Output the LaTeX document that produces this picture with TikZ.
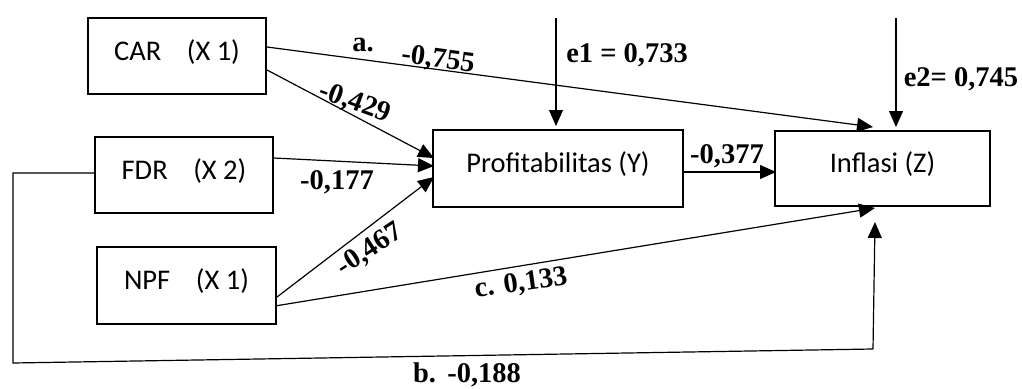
\documentclass[tikz,border=0pt]{standalone}
\usepackage{fontspec}
\newfontfamily\boxfont{Carlito}
\newfontfamily\labfont{Liberation Serif}
\usetikzlibrary{arrows.meta,calc}
\begin{document}
\begin{tikzpicture}[x=1pt,y=-1pt,
 var/.style={draw,line width=2pt,inner sep=0pt,text height=20pt,text depth=12pt,
   font=\boxfont\fontsize{28.5}{34}\selectfont},
 conn/.style={line width=1.2pt,-{Triangle[length=16pt,width=14pt]}},
 plain/.style={line width=1.2pt},
 lab/.style={font=\labfont\bfseries\fontsize{28.5}{32}\selectfont,inner sep=0pt},
]
\useasboundingbox (0,0) rectangle (1022,388);
% boxes
\node[var,minimum width=178pt,minimum height=76pt] (car) at (177,56) {CAR\hspace{0.9em}(X 1)};
\node[var,minimum width=178pt,minimum height=76pt] (fdr) at (184,175) {FDR\hspace{0.9em}(X 2)};
\node[var,minimum width=179pt,minimum height=77pt] (npf) at (186.5,285.5) {NPF\hspace{0.9em}(X 1)};
\node[var,minimum width=250pt,minimum height=77pt] (prof) at (558,168.5) {Profitabilitas (Y)};
\node[var,minimum width=215pt,minimum height=75pt] (inf) at (882.5,168.5) {Inflasi (Z)};
% free ends
\coordinate (e1top) at (556,18);
\coordinate (e2top) at (896,18);
\coordinate (fbA) at (13,173);
\coordinate (fbB) at (13,363);
\coordinate (fbC) at (873,349);
% connectors
\draw[conn] ($(car.east)+(0,-9)$) -- ($(inf.north)+(-9.5,-3)$);
\draw[conn] ($(car.east)+(0,14)$) -- ($(prof.west)+(2,-10.5)$);
\draw[conn] ($(fdr.east)+(0,-17)$) -- ($(prof.west)+(2,-2.5)$);
\draw[conn] ($(npf.east)+(0,11.5)$) -- ($(prof.west)+(2,8.5)$);
\draw[conn] ($(npf.east)+(-2,20.5)$) -- ($(inf.south)+(-7.5,1)$);
\draw[conn] ($(prof.east)+(0,3.5)$) -- ($(inf.west)+(2,3.5)$);
\draw[conn] (e1top) -- ($(prof.north)+(-2,-3)$);
\draw[conn] (e2top) -- ($(inf.north)+(13.5,-3)$);
\draw[plain] ($(fdr.west)+(0,-2)$) -- (fbA) -- (fbB) -- (fbC);
\draw[conn] (fbC) -- ($(inf.south)+(-7.5,15)$);
% labels
\node[lab] (la) at (363,45) {a.};
\node[lab,rotate=-7.5] (l755) at (438,60) {-0,755};
\node[lab,rotate=-20] (l429) at (355,103) {-0,429};
\node[lab] (l177) at (337,182) {-0,177};
\node[lab,rotate=33] (l467) at (370,250) {-0,467};
\node[lab,rotate=8] (l133) at (521,284) {c. 0,133};
\node[lab] (l188) at (467,375) {b.\hspace{0.4em}-0,188};
\node[lab] (l377) at (727,156) {-0,377};
\node[lab] (le1) at (627,55) {e1 = 0,733};
\node[lab] (le2) at (961,79) {e2= 0,745};
\end{tikzpicture}
\end{document}
